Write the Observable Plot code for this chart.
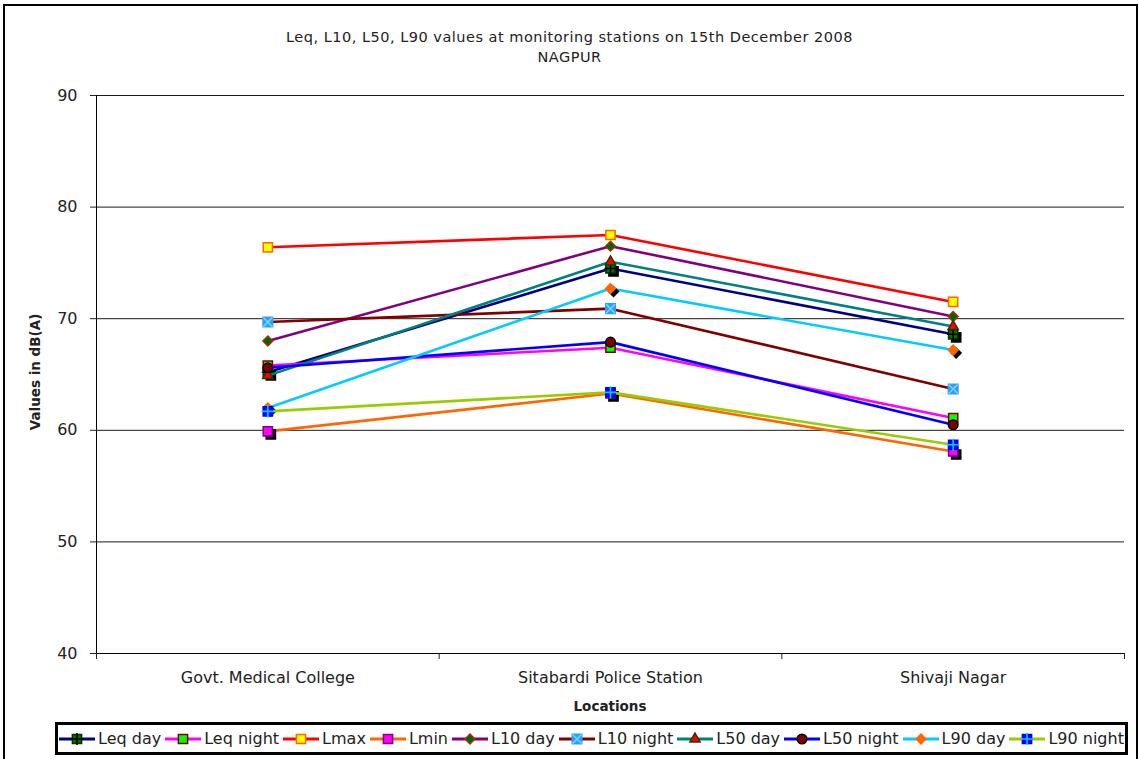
<!DOCTYPE html>
<html><head><meta charset="utf-8">
<script src="https://cdn.jsdelivr.net/npm/d3@7"></script>
<script src="https://cdn.jsdelivr.net/npm/@observablehq/plot@0.6"></script>
<style>
body{margin:0;background:#fff;font-family:"DejaVu Sans",sans-serif;color:#222;}
#wrap{position:relative;width:1139px;height:759px;overflow:hidden;background:#fff;}
#border{position:absolute;left:3px;top:4px;width:1131px;height:780px;border:2px solid #000;}
#chart{position:absolute;left:0;top:0;}
#title{position:absolute;left:0;width:1139px;top:27px;text-align:center;font-size:14.5px;letter-spacing:0.5px;line-height:20px;color:#222;}
#ylab{position:absolute;left:35px;top:372px;transform:translate(-50%,-50%) rotate(-90deg);font-weight:bold;font-size:13.5px;white-space:nowrap;}
#xlab{position:absolute;left:610px;top:706px;transform:translate(-50%,-50%);font-weight:bold;font-size:13.5px;}
#legend{position:absolute;left:55px;top:722px;width:1073px;height:33px;box-sizing:border-box;border:3px solid #000;display:flex;align-items:center;justify-content:center;gap:4px;font-size:16px;background:#fff;}
#legend .it{display:flex;align-items:center;gap:3px;white-space:nowrap;}
</style></head>
<body>
<div id="wrap">
<div id="border"></div>
<div id="chart"></div>
<div id="title">Leq, L10, L50, L90 values at monitoring stations on 15th December 2008<br>NAGPUR</div>
<div id="ylab">Values in dB(A)</div>
<div id="xlab">Locations</div>
<div id="legend"></div>
</div>
<script>
const categories = ["Govt. Medical College", "Sitabardi Police Station", "Shivaji Nagar"];
const seriesNames = ["Leq day", "Leq night", "Lmax", "Lmin", "L10 day", "L10 night", "L50 day", "L50 night", "L90 day", "L90 night"];
const leqDay   = [65.2, 74.5, 68.6];
const leqNight = [65.8, 67.4, 61.1];
const lmax     = [76.4, 77.5, 71.5];
const lmin     = [59.9, 63.3, 58.1];
const l10Day   = [68.0, 76.5, 70.2];
const l10Night = [69.7, 70.9, 63.7];
const l50Day   = [64.9, 75.1, 69.3];
const l50Night = [65.6, 67.9, 60.5];
const l90Day   = [62.0, 72.7, 67.2];
const l90Night = [61.7, 63.4, 58.7];
const yTicks = [40, 50, 60, 70, 80, 90];

const seriesValues = [leqDay, leqNight, lmax, lmin, l10Day, l10Night, l50Day, l50Night, l90Day, l90Night];

// styles
const styles = [
  {line:"#000080", sym:"square", r:5.2, fill:"#007000", stroke:"#003300", shadow:true, ov:"plus", ovR:4, ovC:"#000"},
  {line:"#FF00FF", sym:"square", r:5.2, fill:"#00FF00", stroke:"#800000"},
  {line:"#FF0000", sym:"square", r:5.2, fill:"#FFFF00", stroke:"#FF6600"},
  {line:"#FF6600", sym:"square", r:5.2, fill:"#FF00FF", stroke:"#800080", shadow:true},
  {line:"#800080", sym:"diamond2", r:4.4, fill:"#006600", stroke:"#993300"},
  {line:"#800000", sym:"square", r:5.4, fill:"#3399FF", stroke:"#3399FF", ov:"times", ovR:4.2, ovC:"#66DDFF"},
  {line:"#008080", sym:"triangle", r:3.8, fill:"#FF0000", stroke:"#333300"},
  {line:"#0000FF", sym:"circle", r:4.8, fill:"#800000", stroke:"#000000"},
  {line:"#00CCFF", sym:"diamond2", r:4.4, fill:"#FF6600", stroke:"#FF6600", shadow:true},
  {line:"#99CC00", sym:"square", r:5.2, fill:"#0000FF", stroke:"#0000FF", ov:"plus", ovR:4, ovC:"#00CCFF"}
];

const marks = [
  Plot.gridY({ticks: yTicks.slice(1), stroke: "#000", strokeOpacity: 0.9}),
  Plot.ruleY([40], {stroke: "#000"}),
  Plot.ruleX([0], {stroke: "#000"}),
  Plot.axisY({ticks: yTicks, tickSize: 6, tickPadding: 13, fontSize: 16, label: null, tickFormat: d => String(d)}),
  Plot.axisX({ticks: [0, 1, 2, 3], tickSize: 6, tickFormat: () => "", label: null}),
  Plot.axisX({ticks: [0.5, 1.5, 2.5], tickSize: 0, tickPadding: 18, fontSize: 16, letterSpacing: "0.6px", label: null, tickFormat: v => categories[Math.floor(v)]})
];

seriesNames.forEach((name, k) => {
  const s = styles[k];
  const rows = categories.map((c, i) => ({series: name, x: i + 0.5, y: seriesValues[k][i]}));
  marks.push(Plot.line(rows, {x: "x", y: "y", stroke: s.line, strokeWidth: 2.6}));
  if (s.shadow) marks.push(Plot.dot(rows, {x: "x", y: "y", symbol: s.sym, r: s.r, fill: "#000", stroke: "#000", strokeWidth: 1.5, dx: 3, dy: 3}));
  marks.push(Plot.dot(rows, {x: "x", y: "y", symbol: s.sym, r: s.r, fill: s.fill, stroke: s.stroke, strokeWidth: 1.5}));
  if (s.ov) marks.push(Plot.dot(rows, {x: "x", y: "y", symbol: s.ov, r: s.ovR, stroke: s.ovC, strokeWidth: 1.6}));
});

const chart = Plot.plot({
  width: 1139,
  height: 720,
  marginLeft: 96,
  marginRight: 15,
  marginTop: 95,
  marginBottom: 67,
  x: {domain: [0, 3]},
  y: {domain: [40, 90]},
  style: {fontFamily: "DejaVu Sans", fontSize: "14px", color: "#222", background: "transparent"},
  marks
});
document.getElementById("chart").appendChild(chart);

// legend
const symMap = {square: d3.symbolSquare, diamond2: d3.symbolDiamond2, triangle: d3.symbolTriangle, circle: d3.symbolCircle, plus: d3.symbolPlus, times: d3.symbolTimes};
const leg = document.getElementById("legend");
seriesNames.forEach((name, k) => {
  const s = styles[k];
  const sz = r => r * r * Math.PI;
  let inner = `<line x1="0" x2="36" y1="8" y2="8" stroke="${s.line}" stroke-width="3"/>`;
  inner += `<path transform="translate(18,8)" d="${d3.symbol(symMap[s.sym], sz(s.r))()}" fill="${s.fill}" stroke="${s.stroke}" stroke-width="1.5"/>`;
  if (s.ov) inner += `<path transform="translate(18,8)" d="${d3.symbol(symMap[s.ov], sz(s.ovR))()}" fill="none" stroke="${s.ovC}" stroke-width="1.6"/>`;
  const it = document.createElement("span");
  it.className = "it";
  it.innerHTML = `<svg width="36" height="16">${inner}</svg><span>${name}</span>`;
  leg.appendChild(it);
});
</script>
</body></html>
